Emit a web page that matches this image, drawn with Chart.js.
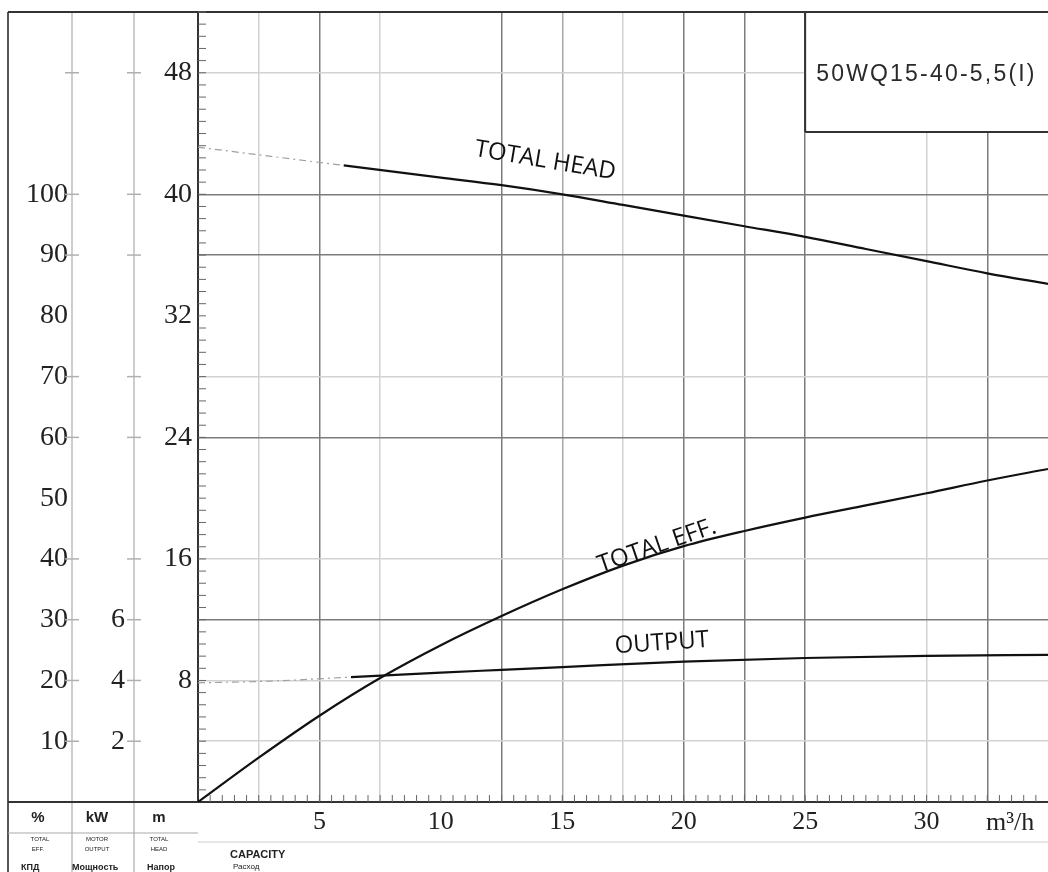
<!DOCTYPE html>
<html>
<head>
<meta charset="utf-8">
<script src="https://cdn.jsdelivr.net/npm/chart.js@4/dist/chart.umd.min.js"></script>
<style>
  html, body { margin: 0; padding: 0; background: #fff; }
  canvas { display: block; }
</style>
</head>
<body>
<canvas id="pumpChart" width="1048" height="872"></canvas>
<script>
// values (capacity in m3/h)
const headFlowExt = [0, 3, 6];
const headExt = [43.1, 42.5, 41.9];
const headFlow = [6, 10, 12.5, 15, 17.5, 20, 22.5, 25, 27.5, 30, 32.5, 35];
const headM = [41.9, 41.1, 40.6, 40.0, 39.3, 38.6, 37.9, 37.2, 36.4, 35.6, 34.8, 34.1];

const effFlow = [0, 2.5, 5, 7.5, 10, 12.5, 15, 17.5, 20, 22.5, 25, 27.5, 30, 32.5, 35];
const effPct = [0, 7.3, 14.2, 20.4, 25.8, 30.6, 35.0, 38.9, 42.1, 44.6, 46.8, 48.8, 50.8, 52.9, 54.8];

const outFlowExt = [0, 3, 6.3];
const outExt = [3.92, 3.98, 4.11];
const outFlow = [6.3, 10, 12.5, 15, 20, 25, 30, 35];
const outKW = [4.11, 4.26, 4.35, 4.44, 4.62, 4.74, 4.81, 4.84];

const flowLabels = [5, 10, 15, 20, 25, 30];
const headLabels = [8, 16, 24, 32, 40, 48];
const pctLabels = [10, 20, 30, 40, 50, 60, 70, 80, 90, 100];
const kwLabels = [2, 4, 6];

const modelName = '50WQ15-40-5,5(I)';

// the printed grid is uneven: some lines dark, some faint, some missing
const DARK = '#7c7c7c', LIGHT = '#d2d2d2';
const xGridDark = [5, 12.5, 20, 22.5, 25, 32.5];
const xGridLight = [2.5, 7.5, 17.5, 30];
const xGridMid = [15];
const yGridDark = [12, 24, 36, 40];
const yGridLight = [4, 8, 16, 28, 48];

function pts(xs, ys) {
    return xs.map((v, i) => ({ x: v, y: ys[i] }));
}

function xGridColor(c) {
    const v = c.tick.value;
    if (xGridDark.includes(v)) return DARK;
    if (xGridMid.includes(v)) return '#a8a8a8';
    if (xGridLight.includes(v)) return LIGHT;
    return 'rgba(0,0,0,0)';
}
function yGridColor(c) {
    const v = c.tick.value;
    if (yGridDark.includes(v)) return DARK;
    if (yGridLight.includes(v)) return LIGHT;
    return 'rgba(0,0,0,0)';
}

// fixed axis sizes, and no extra room reserved for the end labels
function fixWidth(w) {
    return s => { s.width = w; s.paddingTop = 0; s.paddingBottom = 0; };
}

const serif = 'Liberation Serif';
const sans = 'Liberation Sans';

const decor = {
    id: 'decor',
    beforeDraw(chart) {
        const ctx = chart.ctx;
        ctx.save();
        ctx.fillStyle = '#fff';
        ctx.fillRect(0, 0, chart.width, chart.height);
        ctx.restore();
    },
    afterDraw(chart) {
        const { ctx, chartArea: a, scales } = chart;
        const x = scales.x, y = scales.y, yPct = scales.yPct, yKW = scales.yKW;
        const W = chart.width, H = chart.height;

        function line(x1, y1, x2, y2, color, w) {
            ctx.beginPath();
            ctx.strokeStyle = color;
            ctx.lineWidth = w;
            ctx.moveTo(x1, y1);
            ctx.lineTo(x2, y2);
            ctx.stroke();
        }
        ctx.save();

        // left panel columns and frame
        line(yPct.left, a.top, yPct.left, H, '#555', 2);
        line(yPct.right, a.top, yPct.right, H, '#bdbdbd', 1.5);
        line(yKW.right, a.top, yKW.right, H, '#bdbdbd', 1.5);
        line(yPct.left, a.top, W, a.top, '#333', 2);
        line(yPct.left, a.bottom, a.left, a.bottom, '#333', 2);

        // short ticks crossing the column lines
        yGridDark.concat(yGridLight).forEach(v => {
            const py = y.getPixelForValue(v);
            line(yPct.right - 7, py, yPct.right + 7, py, '#b0b0b0', 1.5);
            line(yKW.right - 7, py, yKW.right + 7, py, '#b0b0b0', 1.5);
        });

        // minor ticks inside the plot along both main axes
        for (let v = 0.8; v < y.max; v += 0.8) {
            const py = y.getPixelForValue(v);
            line(a.left, py, a.left + 8, py, '#666', 1);
        }
        for (let v = 0.5; v < x.max; v += 0.5) {
            const px = x.getPixelForValue(v);
            line(px, a.bottom, px, a.bottom - 7, '#666', 1);
        }

        // model box in the top right corner
        const bx = x.getPixelForValue(25), by = a.top + 120;
        ctx.fillStyle = '#fff';
        ctx.fillRect(bx, a.top + 1, W - bx, by - a.top - 1);
        line(bx, a.top, bx, by, '#333', 2);
        line(bx, by, W, by, '#333', 2);
        ctx.fillStyle = '#2a2a2a';
        ctx.font = '23px "' + sans + '"';
        ctx.letterSpacing = '2.2px';
        ctx.textAlign = 'left';
        ctx.textBaseline = 'middle';
        ctx.fillText(modelName, bx + 11, a.top + 63);
        ctx.letterSpacing = '0px';

        // curve names
        function curveLabel(text, xv, yv, deg) {
            ctx.save();
            ctx.translate(x.getPixelForValue(xv), y.getPixelForValue(yv));
            ctx.rotate(deg * Math.PI / 180);
            ctx.fillStyle = '#111';
            ctx.font = '24px "Open Sans"';
            ctx.textAlign = 'center';
            ctx.textBaseline = 'middle';
            ctx.fillText(text, 0, 0);
            ctx.restore();
        }
        curveLabel('TOTAL HEAD', 14.3, 42.2, 9.5);
        curveLabel('TOTAL EFF.', 18.9, 16.85, -19);
        curveLabel('OUTPUT', 19.1, 10.45, -4);

        // unit of the capacity axis
        ctx.fillStyle = '#222';
        ctx.font = '26px "' + serif + '"';
        ctx.textAlign = 'left';
        ctx.textBaseline = 'middle';
        ctx.fillText('m\u00b3/h', 986, a.bottom + 21);

        // bottom legend strip
        line(yPct.left, a.bottom + 31, a.left, a.bottom + 31, '#aaa', 1.2);
        line(a.left, a.bottom + 40, W, a.bottom + 40, '#d0d0d0', 1.2);
        ctx.font = 'bold 15px "' + sans + '"';
        ctx.textAlign = 'center';
        ctx.fillText('%', 38, a.bottom + 16);
        ctx.fillText('kW', 97, a.bottom + 16);
        ctx.fillText('m', 159, a.bottom + 16);

        ctx.font = '6px "' + sans + '"';
        ctx.fillText('TOTAL', 40, a.bottom + 37);
        ctx.fillText('EFF.', 38, a.bottom + 47);
        ctx.fillText('MOTOR', 97, a.bottom + 37);
        ctx.fillText('OUTPUT', 97, a.bottom + 47);
        ctx.fillText('TOTAL', 159, a.bottom + 37);
        ctx.fillText('HEAD', 159, a.bottom + 47);

        ctx.font = 'bold 9px "' + sans + '"';
        ctx.textAlign = 'left';
        ctx.fillText('КПД', 21, a.bottom + 66);
        ctx.fillText('Мощность', 72, a.bottom + 66);
        ctx.fillText('Напор', 147, a.bottom + 66);

        ctx.font = 'bold 11px "' + sans + '"';
        ctx.fillText('CAPACITY', 230, a.bottom + 53);
        ctx.font = '8px "' + sans + '"';
        ctx.fillText('Расход', 233, a.bottom + 65);

        ctx.restore();
    }
};

const ctx = document.getElementById('pumpChart').getContext('2d');
new Chart(ctx, {
    type: 'line',
    data: {
        datasets: [
            {
                data: pts(headFlowExt, headExt), yAxisID: 'y',
                borderColor: '#a0a0a0', borderWidth: 1.2, borderDash: [7, 4, 2, 4]
            },
            {
                data: pts(headFlow, headM), yAxisID: 'y',
                borderColor: '#111', borderWidth: 2.2
            },
            {
                data: pts(effFlow, effPct), yAxisID: 'yPct',
                borderColor: '#111', borderWidth: 2.2
            },
            {
                data: pts(outFlowExt, outExt), yAxisID: 'yKW',
                borderColor: '#a0a0a0', borderWidth: 1.2, borderDash: [7, 4, 2, 4]
            },
            {
                data: pts(outFlow, outKW), yAxisID: 'yKW',
                borderColor: '#111', borderWidth: 2.2
            }
        ]
    },
    options: {
        responsive: false,
        animation: false,
        layout: { padding: { top: 12, left: 8, right: 0, bottom: 0 } },
        plugins: { legend: { display: false }, tooltip: { enabled: false } },
        elements: {
            point: { radius: 0 },
            line: { cubicInterpolationMode: 'monotone', fill: false }
        },
        scales: {
            x: {
                type: 'linear', position: 'bottom', min: 0, max: 35,
                afterFit: s => { s.height = 70; s.paddingLeft = 0; s.paddingRight = 0; },
                ticks: {
                    stepSize: 2.5, autoSkip: false, maxRotation: 0, padding: 5,
                    color: '#222', font: { family: serif, size: 26 },
                    callback: v => flowLabels.includes(v) ? String(v) : ''
                },
                grid: { color: xGridColor, lineWidth: 1.5, drawTicks: false },
                border: { display: true, color: '#333', width: 2 }
            },
            y: {
                type: 'linear', position: 'left', min: 0, max: 52, weight: 1,
                afterFit: fixWidth(64),
                ticks: {
                    stepSize: 4, autoSkip: false, padding: 6,
                    color: '#222', font: { family: serif, size: 28 },
                    callback: v => headLabels.includes(v) ? String(v) : ''
                },
                grid: { color: yGridColor, lineWidth: 1.5, drawTicks: false },
                border: { display: true, color: '#333', width: 2 }
            },
            yKW: {
                type: 'linear', position: 'left', min: 0, max: 26, weight: 2,
                afterFit: fixWidth(62),
                ticks: {
                    stepSize: 2, autoSkip: false, padding: 9,
                    color: '#222', font: { family: serif, size: 28 },
                    callback: v => kwLabels.includes(v) ? String(v) : null
                },
                grid: { display: false, drawTicks: false },
                border: { display: false }
            },
            yPct: {
                type: 'linear', position: 'left', min: 0, max: 130, weight: 3,
                afterFit: fixWidth(64),
                ticks: {
                    stepSize: 10, autoSkip: false, padding: 4,
                    color: '#222', font: { family: serif, size: 28 },
                    callback: v => pctLabels.includes(v) ? String(v) : null
                },
                grid: { display: false, drawTicks: false },
                border: { display: false }
            }
        }
    },
    plugins: [decor]
});
</script>
</body>
</html>
